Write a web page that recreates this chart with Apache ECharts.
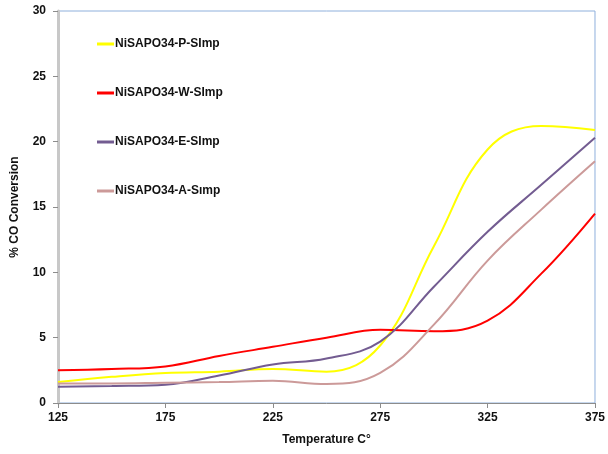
<!DOCTYPE html>
<html><head><meta charset="utf-8">
<script src="https://cdn.jsdelivr.net/npm/echarts@6/dist/echarts.min.js"></script>
<style>html,body{margin:0;padding:0;background:#fff}#c{width:608px;height:454px}</style>
</head><body><div id="c"></div>
<script>
const temps = [125, 150, 175, 200, 225, 250, 275, 300, 325, 350, 375];
const seriesNames = ['NiSAPO34-P-SImp', 'NiSAPO34-W-SImp', 'NiSAPO34-E-SImp', 'NiSAPO34-A-Sımp'];
const valuesP = [1.6, 2.0, 2.3, 2.4, 2.6, 2.4, 4.4, 12.0, 19.4, 21.2, 20.9];
const valuesW = [2.5, 2.6, 2.8, 3.6, 4.3, 5.0, 5.6, 5.5, 6.3, 9.9, 14.5];
const valuesE = [1.25, 1.3, 1.4, 2.1, 2.95, 3.4, 4.7, 8.9, 13.1, 16.7, 20.3];
const valuesA = [1.5, 1.5, 1.55, 1.6, 1.7, 1.45, 2.3, 6.0, 10.9, 14.8, 18.5];
const colors = ['#ffff00', '#ff0000', '#735c91', '#cc9a99'];
const allValues = [valuesP, valuesW, valuesE, valuesA];

const font = 'Liberation Sans, Arial, sans-serif';
const chart = echarts.init(document.getElementById('c'));
chart.setOption({
  animation: false,
  backgroundColor: '#ffffff',
  grid: { left: 58, right: 11, top: 11, bottom: 51, show: true, borderColor: '#8fb0dc', borderWidth: 1 },
  legend: {
    orient: 'vertical', left: 92, top: 33,
    itemWidth: 17, itemHeight: 3, itemGap: 37, icon: 'rect',
    textStyle: { fontFamily: font, fontWeight: 'bold', fontSize: 12, color: '#111', padding: [0,0,0,-4] },
    data: seriesNames
  },
  xAxis: {
    type: 'value', min: 125, max: 375, interval: 50,
    name: 'Temperature C°', nameLocation: 'middle', nameGap: 31,
    nameTextStyle: { fontFamily: font, fontWeight: 'bold', fontSize: 12, color: '#111' },
    axisLine: { lineStyle: { color: '#8c8c8c', width: 1 } },
    axisTick: { show: true, length: 5, lineStyle: { color: '#8c8c8c' } },
    axisLabel: { fontFamily: font, fontWeight: 'bold', fontSize: 12, color: '#111', margin: 9 },
    splitLine: { show: false }
  },
  yAxis: {
    type: 'value', min: 0, max: 30, interval: 5,
    name: '% CO Conversion', nameLocation: 'middle', nameGap: 37,
    nameTextStyle: { fontFamily: font, fontWeight: 'bold', fontSize: 12, color: '#111' },
    axisLine: { show: true, lineStyle: { color: '#c8c8c8', width: 3 } },
    axisTick: { show: true, length: 5, lineStyle: { color: '#8c8c8c' } },
    axisLabel: { fontFamily: font, fontWeight: 'bold', fontSize: 12, color: '#111', margin: 12 },
    splitLine: { show: false }
  },
  series: seriesNames.map((n, i) => ({
    name: n, type: 'line', smooth: 0.4, showSymbol: false, symbol: 'none',
    lineStyle: { color: colors[i], width: 2 }, itemStyle: { color: colors[i] },
    data: temps.map((t, j) => [t, allValues[i][j]])
  }))
});
</script></body></html>
